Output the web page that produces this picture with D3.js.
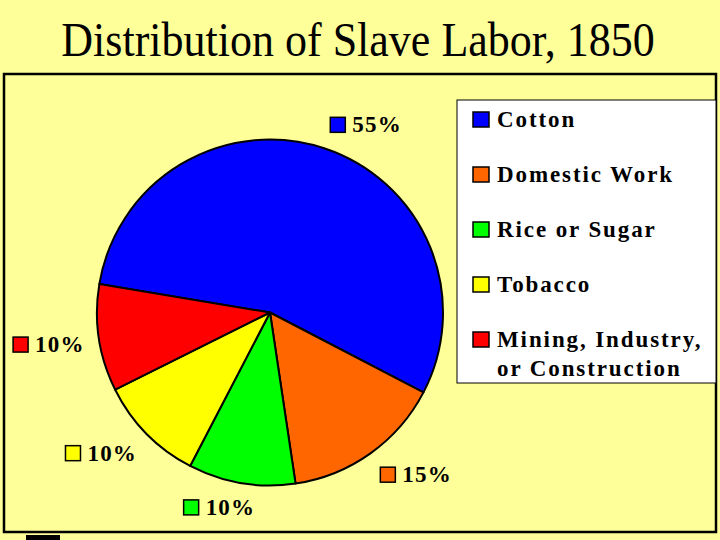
<!DOCTYPE html>
<html>
<head>
<meta charset="utf-8">
<script src="https://cdn.jsdelivr.net/npm/d3@7"></script>
<style>
  body { margin: 0; background: #ffff99; }
</style>
</head>
<body>
<script>
// chart data
const categories = ["Cotton", "Domestic Work", "Rice or Sugar", "Tobacco", "Mining, Industry,\nor Construction"];
const shares = [55, 15, 10, 10, 10];
const colors = ["#0000ff", "#ff6600", "#00ff00", "#ffff00", "#ff0000"];
const title = "Distribution of Slave Labor, 1850";

const width = 720, height = 540;
const serif = "\"Liberation Serif\", \"Times New Roman\", serif";

const svg = d3.select("body")
    .append("svg")
        .attr("width", width)
        .attr("height", height)
        .style("font-family", serif);

svg.append("rect")
    .attr("width", width)
    .attr("height", height)
    .attr("fill", "#ffff99");

// Title, slightly tall like the original slide font
svg.append("text")
    .attr("transform", "translate(358,56) scale(1,1.1)")
    .attr("text-anchor", "middle")
    .style("font-family", serif)
    .style("font-size", "44px")
    .attr("fill", "#000")
    .text(title);

// plot frame
svg.append("rect")
    .attr("x", 4)
    .attr("y", 74)
    .attr("width", 712)
    .attr("height", 458)
    .attr("fill", "none")
    .attr("stroke", "#000")
    .attr("stroke-width", 2.5);

// little black tab under the frame
svg.append("rect")
    .attr("x", 26)
    .attr("y", 535)
    .attr("width", 34)
    .attr("height", 5)
    .attr("fill", "#000");

// Pie
const cx = 270, cy = 312.5, radius = 173;
const start = -80.5 * Math.PI / 180;

const pie = d3.pie()
    .sort(null)
    .value(d => d)
    .startAngle(start)
    .endAngle(start + 2 * Math.PI);

const arcs = pie(shares);
const arc = d3.arc().innerRadius(0).outerRadius(radius);

const g = svg.append("g")
    .attr("transform", `translate(${cx},${cy})`);

g.selectAll("path")
    .data(arcs)
    .enter().append("path")
    .attr("d", arc)
    .attr("fill", (d, i) => colors[i])
    .attr("stroke", "#000")
    .attr("stroke-width", 2)
    .attr("stroke-linejoin", "round");

// Data labels with legend keys, placed just outside the pie
const labelR = 190, keySize = 15, keyGap = 7, labelW = 69;
const clamp = v => Math.max(0, Math.min(1, v));

arcs.forEach((d, i) => {
    const a = (d.startAngle + d.endAngle) / 2;
    const s = Math.sin(a), c = Math.cos(a);
    const px = cx + labelR * s, py = cy - labelR * c;
    const fx = clamp(0.5 - 1.8 * s), fy = clamp(0.5 + 1.8 * c);
    const left = px - fx * labelW, top = py - fy * keySize;

    svg.append("rect")
        .attr("x", left)
        .attr("y", top)
        .attr("width", keySize)
        .attr("height", keySize)
        .attr("fill", colors[i])
        .attr("stroke", "#000")
        .attr("stroke-width", 1.5);
    svg.append("text")
        .attr("x", left + keySize + keyGap)
        .attr("y", top + keySize)
        .style("font-family", serif)
        .style("font-size", "23px")
        .style("font-weight", "bold")
        .style("letter-spacing", "1.2px")
        .attr("fill", "#000")
        .text(shares[i] + "%");
});

// Legend
const legend = svg.append("g");
legend.append("rect")
    .attr("x", 457)
    .attr("y", 100)
    .attr("width", 259)
    .attr("height", 283)
    .attr("fill", "#fff")
    .attr("stroke", "#000")
    .attr("stroke-width", 1);

const rowY = d3.scalePoint()
    .domain(categories)
    .range([127, 347]);

categories.forEach((name, i) => {
    const y = rowY(name);
    legend.append("rect")
        .attr("x", 473)
        .attr("y", y - 15)
        .attr("width", 16)
        .attr("height", 15)
        .attr("fill", colors[i])
        .attr("stroke", "#000")
        .attr("stroke-width", 1.5);
    const t = legend.append("text")
        .attr("x", 497)
        .attr("y", y)
        .style("font-family", serif)
        .style("font-size", "23px")
        .style("font-weight", "bold")
        .style("letter-spacing", "1.9px")
        .attr("fill", "#000");
    name.split("\n").forEach((line, j) => {
        t.append("tspan")
            .attr("x", 497)
            .attr("dy", j === 0 ? 0 : 28.5)
            .text(line);
    });
});
</script>
</body>
</html>
